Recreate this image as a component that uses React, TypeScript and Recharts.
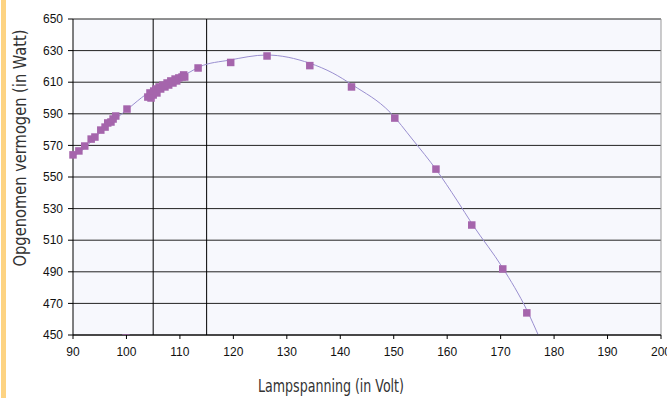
import React from 'react';
import {
  ComposedChart,
  Scatter,
  Line,
  XAxis,
  YAxis,
  CartesianGrid,
  ReferenceLine,
  Label,
} from 'recharts';

// Measured points: lamp voltage (V) vs absorbed power (W)
const measX = [
  90, 91.1, 92.2, 93.4, 94.1, 95.2, 96.0, 96.5, 97.1, 97.5, 98.0, 100.1, 99.9,
  104.0, 104.4, 104.6, 105.0, 105.1, 105.5, 105.7, 106.1, 106.4, 106.8, 107.2,
  107.6, 107.9, 108.3, 108.7, 109.1, 109.4, 109.8, 110.4, 110.7, 110.9,
  113.4, 119.5, 126.3, 134.3, 142.1, 150.2, 157.9, 164.6, 170.4, 174.9,
];
const measY = [
  564, 566.5, 569.6, 574, 575.3, 579.7, 581.6, 584.2, 584.8, 586.7, 588.6, 593, 448,
  600.6, 603.2, 600, 601.9, 604.4, 605.7, 603.2, 607, 605.7, 608.2, 607,
  609.5, 608.2, 610.8, 609.5, 612, 610.8, 612.7, 613.3, 614.6, 613.3,
  619, 622.5, 626.6, 620.5, 607, 587.3, 555, 519.6, 491.8, 464,
];

// Trend line
const trendX = [
  90, 91.3, 95, 100.7, 103.5, 108, 111.9, 113.7, 119.3, 126.2, 134.3, 138.6,
  142.3, 149.3, 153.6, 158, 161.8, 164.8, 170.4, 174.9, 177.3,
];
const trendY = [
  563, 565.8, 578, 594.3, 601.9, 610, 616.5, 619.8, 624, 627.2, 622, 615.8,
  608.2, 591, 573.4, 554.4, 535.4, 519.6, 492.4, 465.8, 448,
];

const xTicks = [90, 100, 110, 120, 130, 140, 150, 160, 170, 180, 190, 200];
const yTicks = [450, 470, 490, 510, 530, 550, 570, 590, 610, 630, 650];
const markerLines = [105, 115];

const xTitle = 'Lampspanning (in Volt)';
const yTitle = 'Opgenomen vermogen (in Watt)';

const measured = measX.map((x, i) => ({ x, y: measY[i] }));
const trend = trendX.map((x, i) => ({ x, y: trendY[i] }));

const tickStyle = { fontSize: 12, fontFamily: 'Liberation Sans, Arial, sans-serif', fill: '#111' };
const titleFont = '"DejaVu Sans Condensed", "DejaVu Sans", sans-serif';

const Square = (p: any) => (
  <rect x={p.cx - 3.75} y={p.cy - 3.75} width={7.5} height={7.5} fill="#A565AC" />
);

export default function App() {
  return (
    <div style={{ position: 'absolute', left: 0, top: 0, width: 667, height: 398, background: '#fff' }}>
      <div
        style={{ position: 'absolute', left: 1, top: 0, width: 5, height: 398, background: '#FDD382' }}
      />
      <ComposedChart
        width={667}
        height={398}
        margin={{ top: 19, right: 6, left: 0, bottom: 33 }}
      >
        <CartesianGrid
          horizontal
          vertical={false}
          stroke="#222"
          fill="#F7F8FD"
          fillOpacity={1}
        />
        <XAxis
          type="number"
          dataKey="x"
          domain={[90, 200]}
          ticks={xTicks}
          interval={0}
          height={30}
          tick={tickStyle}
          tickSize={4}
          tickMargin={8}
          stroke="#000"
          axisLine={{ stroke: '#000' }}
          tickLine={{ stroke: '#000' }}
        >
          <Label
            content={() => (
              <text
                x={331}
                y={392}
                textAnchor="middle"
                fontSize={17}
                fontFamily={titleFont}
                fill="#333"
                textLength={146}
                lengthAdjust="spacingAndGlyphs"
              >
                {xTitle}
              </text>
            )}
          />
        </XAxis>
        <YAxis
          type="number"
          dataKey="y"
          domain={[450, 650]}
          allowDataOverflow
          ticks={yTicks}
          interval={0}
          width={73}
          tick={tickStyle}
          tickSize={5}
          tickMargin={5}
          axisLine={{ stroke: '#000' }}
          tickLine={{ stroke: '#000' }}
        >
          <Label
            content={() => (
              <text
                x={26}
                y={148}
                transform="rotate(-90 26 148)"
                textAnchor="middle"
                fontSize={17}
                fontFamily={titleFont}
                fill="#333"
                textLength={237}
                lengthAdjust="spacingAndGlyphs"
              >
                {yTitle}
              </text>
            )}
          />
        </YAxis>
        {markerLines.map((v) => (
          <ReferenceLine key={v} x={v} stroke="#000" strokeWidth={1} />
        ))}
        <ReferenceLine x={200} stroke="#999" strokeWidth={1} />
        <Line
          data={trend}
          dataKey="y"
          type="monotone"
          stroke="#9A8FD0"
          strokeWidth={1}
          dot={false}
          activeDot={false}
          isAnimationActive={false}
        />
        <Scatter
          data={measured}
          dataKey="y"
          shape={Square}
          isAnimationActive={false}
        />
      </ComposedChart>
    </div>
  );
}
